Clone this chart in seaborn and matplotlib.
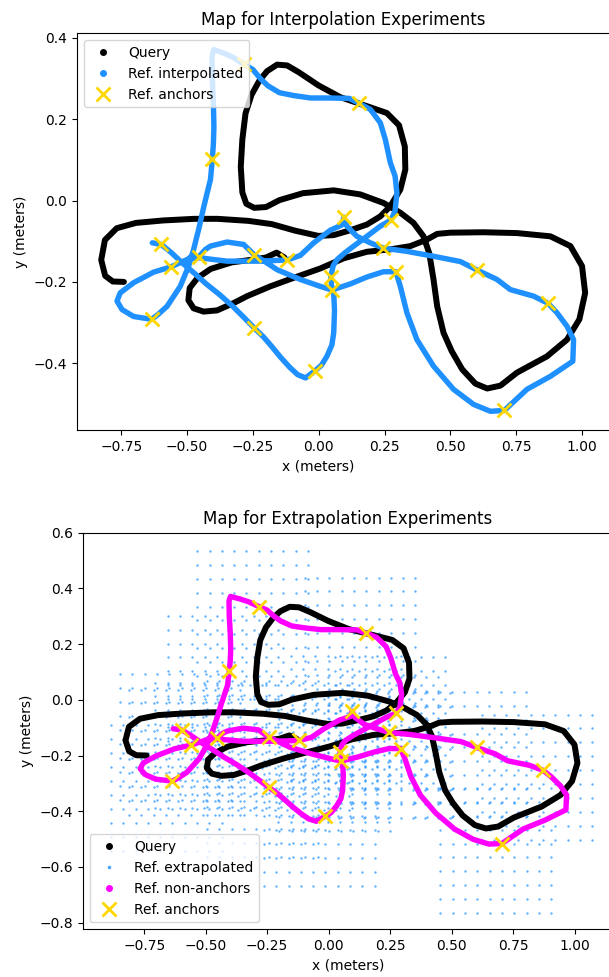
import matplotlib
matplotlib.use('Agg')
import matplotlib.pyplot as plt
from matplotlib.lines import Line2D
import seaborn as sns
import numpy as np

#%% data (meters)
# query trajectory, in driving order
query_x = [-0.13, -0.16, -0.2, -0.26, -0.33, -0.41, -0.46, -0.49, -0.495, -0.475, -0.437, -0.386,
           -0.323, -0.272, -0.184, -0.095, 0.006, 0.095, 0.183, 0.272, 0.348, 0.411, 0.45, 0.5,
           0.626, 0.753, 0.88, 0.956, 1.0, 1.012, 0.99, 0.943, 0.867, 0.753, 0.69, 0.64, 0.595,
           0.545, 0.505, 0.474, 0.45, 0.436, 0.42, 0.398, 0.36, 0.31, 0.246, 0.158, 0.057, -0.06,
           -0.149, -0.2, -0.245, -0.275, -0.29, -0.296, -0.29, -0.278, -0.255, -0.225, -0.196,
           -0.158, -0.12, -0.075, -0.001, 0.082, 0.183, 0.259, 0.305, 0.327, 0.329, 0.31, 0.272,
           0.234, 0.183, 0.12, 0.057, -0.001, -0.09, -0.178, -0.267, -0.384, -0.473, -0.591,
           -0.694, -0.767, -0.812, -0.826, -0.811, -0.782, -0.74]
query_y = [-0.14, -0.128, -0.14, -0.146, -0.152, -0.168, -0.19, -0.215, -0.245, -0.265, -0.273, -0.27,
           -0.252, -0.235, -0.211, -0.19, -0.167, -0.142, -0.126, -0.12, -0.112, -0.096, -0.082, -0.079,
           -0.078, -0.08, -0.088, -0.112, -0.161, -0.227, -0.292, -0.342, -0.383, -0.423, -0.455, -0.462, -0.45,
           -0.415, -0.37, -0.325, -0.26, -0.194, -0.13, -0.088, -0.055, -0.03, -0.006, 0.015, 0.025, 0.018,
           0.001, -0.016, -0.018, -0.008, 0.02, 0.083, 0.15, 0.214, 0.26, 0.295, 0.318,
           0.334, 0.332, 0.315, 0.283, 0.254, 0.232, 0.215, 0.185, 0.133, 0.076, 0.027, -0.014,
           -0.039, -0.059, -0.073, -0.085, -0.087, -0.074, -0.058, -0.05, -0.045, -0.045, -0.049,
           -0.055, -0.068, -0.097, -0.146, -0.185, -0.199, -0.2]

# reference trajectory
ref_x = [-0.632, -0.598, -0.56, -0.517, -0.47, -0.429, -0.375, -0.325, -0.28, -0.244, -0.21, -0.178,
         -0.145, -0.11, -0.08, -0.05, -0.013, 0.01, 0.031, 0.05, 0.057, 0.06, 0.057, 0.05, 0.046,
         0.055, 0.07, 0.1, 0.133, 0.183, 0.234, 0.275, 0.29, 0.297, 0.29, 0.272, 0.253, 0.234, 0.196,
         0.153, 0.116, 0.04, -0.031, -0.095, -0.149, -0.193, -0.222, -0.25, -0.284, -0.323, -0.36,
         -0.399, -0.405, -0.404, -0.4, -0.398, -0.4, -0.404, -0.411, -0.436, -0.456, -0.475, -0.494,
         -0.526, -0.576, -0.61, -0.635, -0.703, -0.747, -0.766, -0.754, -0.703, -0.627, -0.561, -0.5,
         -0.455, -0.43, -0.411, -0.348, -0.285, -0.244, -0.2, -0.158, -0.07, 0.006, 0.05, 0.12, 0.183,
         0.246, 0.293, 0.31, 0.335, 0.373, 0.436, 0.512, 0.588, 0.652, 0.705, 0.791, 0.88, 0.965,
         0.968, 0.943, 0.905, 0.872, 0.816, 0.728, 0.677, 0.602, 0.538, 0.436, 0.335, 0.246, 0.196,
         0.145, 0.107, 0.096, 0.088, 0.044, -0.019, -0.07, -0.119, -0.222, -0.348, -0.45, -0.49]
ref_y = [-0.104, -0.108, -0.128, -0.154, -0.18, -0.204, -0.232, -0.261, -0.29, -0.314, -0.335, -0.359,
         -0.385, -0.41, -0.428, -0.436, -0.418, -0.405, -0.383, -0.355, -0.325, -0.27, -0.227, -0.22, -0.187,
         -0.16, -0.145, -0.128, -0.112, -0.088, -0.063, -0.048, -0.025, 0.019, 0.06, 0.093, 0.15, 0.191, 0.224,
         0.239, 0.251, 0.252, 0.252, 0.258, 0.265, 0.282, 0.3, 0.322, 0.335, 0.351, 0.362,
         0.371, 0.355, 0.3, 0.24, 0.181, 0.14, 0.102, 0.052, -0.014, -0.071, -0.12, -0.161,
         -0.211, -0.26, -0.28, -0.292, -0.285, -0.268, -0.247, -0.227, -0.202, -0.176, -0.163, -0.145,
         -0.138, -0.12, -0.112, -0.102, -0.108, -0.134, -0.152, -0.17, -0.194, -0.211, -0.22, -0.205, -0.188,
         -0.175, -0.175, -0.211, -0.276, -0.342, -0.407, -0.464, -0.501, -0.518, -0.516, -0.464, -0.432, -0.395,
         -0.342, -0.309, -0.276, -0.253, -0.235, -0.219, -0.194, -0.171, -0.15, -0.137, -0.125, -0.117, -0.104,
         -0.088, -0.063, -0.041, -0.06, -0.073, -0.104, -0.135, -0.146, -0.149, -0.149, -0.141, -0.14]

# anchor poses
anchor_x = [-0.284, 0.153, -0.404, 0.096, 0.275, -0.598, 0.246, -0.561, -0.455, -0.244,
            -0.119, 0.046, 0.050, 0.293, 0.602, 0.872, -0.635, -0.244, -0.013, 0.705]
anchor_y = [0.335, 0.239, 0.102, -0.041, -0.048, -0.108, -0.117, -0.163, -0.138, -0.134,
            -0.146, -0.187, -0.220, -0.175, -0.171, -0.253, -0.292, -0.314, -0.418, -0.516]

# local sampling grid put around every anchor for extrapolation
grid_offsets = [-0.25, -0.20, -0.15, -0.10, -0.05, 0.0, 0.05, 0.10, 0.15, 0.20]

ext_x = [a + dx for a, b in zip(anchor_x, anchor_y) for dx in grid_offsets for dy in grid_offsets]
ext_y = [b + dy for a, b in zip(anchor_x, anchor_y) for dx in grid_offsets for dy in grid_offsets]

#%% figure
W, H = 609, 977
fig = plt.figure(figsize=(W / 100, H / 100), dpi=100)

line_kw = dict(sort=False, estimator=None, legend=False,
               solid_capstyle='round', solid_joinstyle='round')
anchor_kw = dict(marker='x', color='gold', s=100, linewidth=2, legend=False, zorder=5)

# top: interpolation (right spine falls just outside the picture)
ax1 = fig.add_axes([77 / W, (H - 430) / H, 540 / W, 396.7 / H])
sns.lineplot(x=query_x, y=query_y, color='black', linewidth=4.3, ax=ax1, **line_kw)
sns.lineplot(x=ref_x, y=ref_y, color='dodgerblue', linewidth=3.9, ax=ax1, **line_kw)
sns.scatterplot(x=anchor_x, y=anchor_y, ax=ax1, **anchor_kw)
ax1.set_xlim(-0.918, -0.918 + 540 / 263.3)
ax1.set_ylim(-0.564, 0.411)
ax1.set_xticks([-0.75, -0.5, -0.25, 0.0, 0.25, 0.5, 0.75, 1.0])
ax1.set_yticks([-0.4, -0.2, 0.0, 0.2, 0.4])
ax1.set_title('Map for Interpolation Experiments', x=(343 - 77) / 540)
ax1.set_xlabel('x (meters)', x=(318 - 77) / 540)
ax1.set_ylabel('y (meters)')
handles1 = [Line2D([], [], ls='', marker='o', color='black', markersize=4),
            Line2D([], [], ls='', marker='o', color='dodgerblue', markersize=4),
            Line2D([], [], ls='', marker='x', color='gold', markersize=10, markeredgewidth=2)]
ax1.legend(handles1, ['Query', 'Ref. interpolated', 'Ref. anchors'], loc='upper left')

# bottom: extrapolation
ax2 = fig.add_axes([82.7 / W, (H - 929.3) / H, 536 / W, 396.6 / H])
sns.lineplot(x=query_x, y=query_y, color='black', linewidth=4.3, ax=ax2, **line_kw)
sns.scatterplot(x=ext_x, y=ext_y, color='dodgerblue', s=3, alpha=0.7, linewidth=0,
                legend=False, ax=ax2)
sns.lineplot(x=ref_x, y=ref_y, color='magenta', linewidth=3.9, ax=ax2, **line_kw)
sns.scatterplot(x=anchor_x, y=anchor_y, ax=ax2, **anchor_kw)
ax2.set_xlim(-1.0, -1.0 + 536 / 245.9)
ax2.set_ylim(-0.824, 0.6)
ax2.set_xticks([-0.75, -0.5, -0.25, 0.0, 0.25, 0.5, 0.75, 1.0])
ax2.set_yticks([-0.8, -0.6, -0.4, -0.2, 0.0, 0.2, 0.4, 0.6])
ax2.set_title('Map for Extrapolation Experiments', x=(347.5 - 82.7) / 536)
ax2.set_xlabel('x (meters)', x=(348 - 82.7) / 536)
ax2.set_ylabel('y (meters)')
handles2 = [Line2D([], [], ls='', marker='o', color='black', markersize=4),
            Line2D([], [], ls='', marker='o', color='dodgerblue', alpha=0.7, markersize=1.6),
            Line2D([], [], ls='', marker='o', color='magenta', markersize=4),
            Line2D([], [], ls='', marker='x', color='gold', markersize=10, markeredgewidth=2)]
ax2.legend(handles2, ['Query', 'Ref. extrapolated', 'Ref. non-anchors', 'Ref. anchors'],
           loc='lower left')

fig.savefig('out.png', dpi=100)
